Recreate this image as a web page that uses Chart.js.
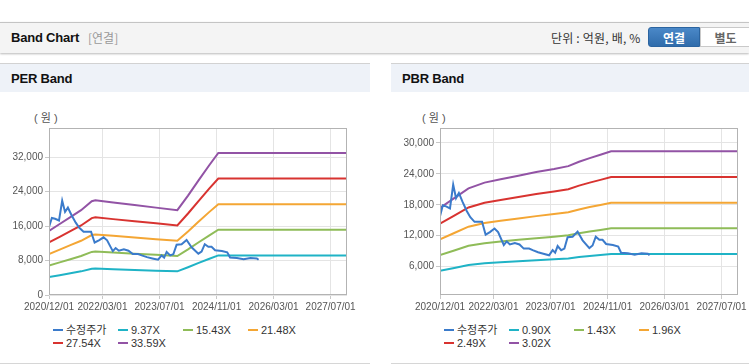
<!DOCTYPE html>
<html><head><meta charset="utf-8">
<script src="https://cdn.jsdelivr.net/npm/chart.js@4.4.1/dist/chart.umd.min.js"></script>
<style>
html,body{margin:0;padding:0;background:#fff;}
#page{position:relative;width:749px;height:364px;overflow:hidden;font-family:"Liberation Sans",Arial,"Noto Sans CJK KR",sans-serif;}
.hdr{position:absolute;left:0;top:22px;width:749px;height:30px;background:#f4f4f4;border-top:1px solid #c4c4c4;box-shadow:0 1px 2px rgba(0,0,0,.28);}
.ttl{position:absolute;left:11px;top:7px;font-weight:bold;font-size:13px;line-height:16px;color:#111;letter-spacing:-0.2px;}
.sub{position:absolute;left:88px;top:7px;font-size:12px;line-height:16px;color:#999;font-family:"Noto Sans CJK KR",sans-serif;}
.unit{position:absolute;left:551px;top:7px;font-size:12px;line-height:16px;color:#333;font-family:"Noto Sans CJK KR",sans-serif;letter-spacing:0.2px;}
.btn{position:absolute;top:4px;height:20px;line-height:20px;text-align:center;font-size:12px;font-weight:bold;font-family:"Noto Sans CJK KR",sans-serif;box-sizing:border-box;}
.btn.on{left:648px;width:52px;background:linear-gradient(#4a88c8,#2f6cab);color:#fff;border:1px solid #2b64a0;border-radius:3px 0 0 3px;}
.btn.off{left:700px;width:51px;background:#fff;color:#666;border:1px solid #c9c9c9;}
.panel{position:absolute;top:63px;width:370px;height:299px;background:#fff;border-top:1px solid #d2d2d2;border-bottom:1px solid #d6d6d6;}
.phead{position:absolute;left:0;top:0;width:370px;height:28px;background:#eef2f8;}
.ptitle{position:absolute;left:11px;top:7px;font-weight:bold;font-size:13px;line-height:16px;color:#111;letter-spacing:-0.2px;}
.unitlbl{position:absolute;top:47px;font-size:11px;line-height:14px;color:#555;font-family:"Liberation Sans","Noto Sans CJK KR",sans-serif;}
canvas.c{position:absolute;left:0;top:29px;}
.lg{position:absolute;font-size:11px;line-height:13px;color:#333;white-space:nowrap;}
.lg i{position:absolute;left:0;top:5px;width:10px;height:2px;}
.lg span{position:absolute;left:13px;top:0;}
.lg span.kr{font-family:"Noto Sans CJK KR",sans-serif;font-size:11px;top:-1px;}
</style></head>
<body>
<div id="page">
  <div class="hdr">
    <span class="ttl">Band Chart</span><span class="sub">[연결]</span>
    <span class="unit">단위 : 억원, 배, %</span>
    <div class="btn on">연결</div><div class="btn off">별도</div>
  </div>
  <div class="panel" id="p1" style="left:0;">
    <div class="phead"><span class="ptitle">PER Band</span></div>
    <span class="unitlbl" style="left:34px;">( 원 )</span>
    <canvas class="c" id="perChart" width="370" height="227"></canvas>
  </div>
  <div class="panel" id="p2" style="left:391px;">
    <div class="phead"><span class="ptitle">PBR Band</span></div>
    <span class="unitlbl" style="left:31px;">( 원 )</span>
    <canvas class="c" id="pbrChart" width="370" height="227"></canvas>
  </div>
</div>
<script>
// ---- X axis (months since 2020/12/01) ----
const xTickMonths = [0, 15, 31, 47, 63, 79];
const xTickLabels = ['2020/12/01','2022/03/01','2023/07/01','2024/11/01','2026/03/01','2027/07/01'];
const xMax = 83.6;

// ---- 수정주가 (shared) ----
const priceMonths = [0,0.8,1.7,2.8,3.7,4.5,5.3,6.3,7.5,8.5,9.7,11.8,12.8,14.0,15.3,16.3,17.9,18.7,19.6,21.0,22.3,23.5,25.0,26.0,27.5,29.0,30.6,31.6,32.3,33.0,34.0,34.9,35.8,37.2,38.6,40.0,41.9,42.8,43.7,44.7,45.6,46.6,48.5,50.0,50.8,52.7,54.6,56.5,58.3,58.8];
const priceValues = [15800,17900,17700,17300,21900,19300,20300,18600,16800,15600,14700,14700,12200,12700,13400,12700,10200,10900,10300,10600,10300,9500,9500,9200,8800,8500,8200,9200,8700,10000,9200,9500,11700,11800,12800,11100,9600,10100,11800,11200,11200,10400,10200,9900,8700,8600,8300,8600,8500,8200];

// ---- PER band ----
const perLabels = ['9.37X','15.43X','21.48X','27.54X','33.59X'];
const perMonths = [0,3,6,9,12,13,18,24,30,36,39,42,45,47.5,83.6];
const per937  = [4156,4603,5049,5495,6081,6137,5997,5830,5663,5495,6444,7448,8424,9205,9205];
const per1543 = [6844,7579,8314,9049,10014,10106,9876,9601,9325,9049,10611,12265,13873,15159,15159];
const per2148 = [9528,10551,11575,12598,13941,14069,13749,13365,12981,12598,14772,17074,19312,21103,21103];
const per2754 = [12216,13528,14840,16152,17874,18038,17628,17136,16644,16152,18939,21891,24761,27056,27056];
const per3359 = [14900,16500,18100,19700,21800,22000,21500,20900,20300,19700,23100,26700,30200,33000,33000];
const perYTicks = [0,8000,16000,24000,32000];

// ---- PBR band ----
const pbrLabels = ['0.90X','1.43X','1.96X','2.49X','3.02X'];
const pbrMonths = [0,4,8,12.5,17,22,27,32,36,39,42,45,48,83.6];
const pbr090 = [5185,5752,6318,6646,6839,7048,7257,7435,7599,7853,8061,8255,8455,8455];
const pbr143 = [8239,9139,10038,10559,10867,11198,11530,11814,12075,12477,12808,13116,13433,13433];
const pbr196 = [11293,12526,13759,14473,14895,15349,15803,16193,16550,17101,17556,17978,18412,18412];
const pbr249 = [14346,15913,17479,18386,18921,19499,20076,20571,21025,21726,22303,22839,23391,23391];
const pbr302 = [17400,19300,21200,22300,22950,23650,24350,24950,25500,26350,27050,27700,28370,28370];
const pbrYTicks = [6000,12000,18000,24000,30000];

const priceLabel = '수정주가';
const colors = ['#3b7bcb','#1fb3c6','#8fbc58','#f4a634','#d83330','#9253a5'];

Chart.defaults.font.family = '"Liberation Sans", Arial, sans-serif';
Chart.defaults.animation = false;

const pts = (xs, ys) => xs.map((x, i) => ({x: x, y: ys[i]}));

const boxPlugin = {
  id: 'box',
  afterDatasetsDraw(c) {
    const a = c.chartArea, ctx = c.ctx;
    ctx.save();
    ctx.strokeStyle = '#b3b3b3';
    ctx.lineWidth = 1;
    const l = Math.round(a.left) + 0.5, t = Math.round(a.top) + 0.5;
    const r = Math.round(a.right) - 0.5, b = Math.round(a.bottom) - 0.5;
    ctx.strokeRect(l, t, r - l, b - t);
    ctx.restore();
  }
};

function makeChart(id, bandMonths, bands, labels, yMin, yMax, yTicks, panelId) {
  const ds = [{label: priceLabel, data: pts(priceMonths, priceValues)}];
  bands.forEach((b, i) => ds.push({label: labels[i], data: pts(bandMonths, b)}));
  ds.forEach((d, i) => {
    d.borderColor = colors[i]; d.backgroundColor = colors[i];
    d.borderWidth = 2; d.pointRadius = 0; d.tension = 0; d.fill = false;
  });
  new Chart(document.getElementById(id), {
    type: 'line',
    data: {datasets: ds},
    options: {
      responsive: false,
      layout: {padding: {top: 35, right: 23, left: 0, bottom: 0}},
      plugins: {legend: {display: false}, tooltip: {enabled: false}},
      scales: {
        x: {
          type: 'linear', min: 0, max: xMax,
          afterBuildTicks: s => { s.ticks = xTickMonths.map(v => ({value: v})); },
          afterFit: s => { s.height = 25; },
          ticks: {
            autoSkip: false, maxRotation: 0, padding: 2,
            color: '#555', font: {size: 10},
            callback: (v, i) => xTickLabels[i]
          },
          grid: {color: '#e4e4e4', tickColor: '#c8c8c8', tickLength: 4},
          border: {display: false}
        },
        y: {
          type: 'linear', min: yMin, max: yMax,
          afterBuildTicks: s => { s.ticks = yTicks.map(v => ({value: v})); },
          afterFit: s => { s.width = 49; },
          ticks: {
            padding: 2, color: '#555', font: {size: 10},
            callback: v => v.toLocaleString('en-US')
          },
          grid: {color: '#e4e4e4', tickColor: '#c8c8c8', tickLength: 4},
          border: {display: false}
        }
      }
    },
    plugins: [boxPlugin]
  });
  // HTML legend
  const panel = document.getElementById(panelId);
  const cols = [53, 118, 183, 248];
  ds.forEach((d, i) => {
    const row = i < 4 ? 0 : 1, col = i < 4 ? i : i - 4;
    const el = document.createElement('div');
    el.className = 'lg';
    el.style.left = cols[col] + 'px';
    el.style.top = (260 + row * 13) + 'px';
    const mk = document.createElement('i');
    mk.style.background = d.borderColor;
    const tx = document.createElement('span');
    tx.textContent = d.label;
    if (i === 0) tx.className = 'kr';
    el.appendChild(mk); el.appendChild(tx);
    panel.appendChild(el);
  });
}

makeChart('perChart', perMonths, [per937, per1543, per2148, per2754, per3359], perLabels, 0, 38800, perYTicks, 'p1');
makeChart('pbrChart', pbrMonths, [pbr090, pbr143, pbr196, pbr249, pbr302], pbrLabels, 500, 32900, pbrYTicks, 'p2');
</script>
</body></html>
